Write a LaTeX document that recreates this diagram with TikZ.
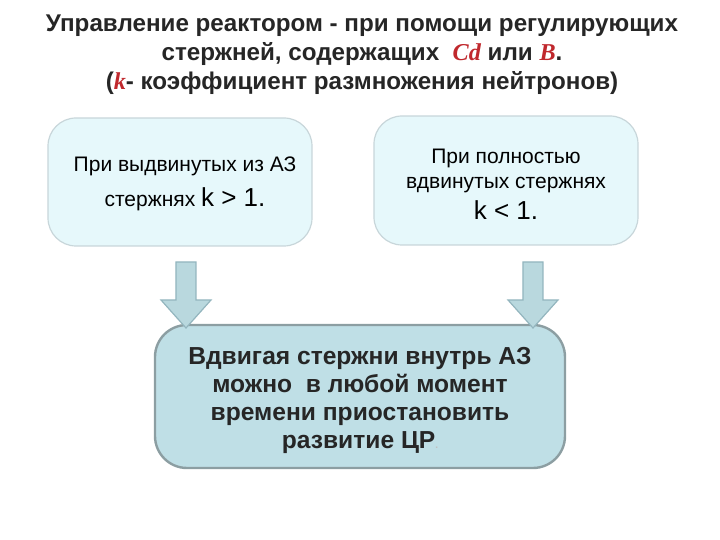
\documentclass[tikz,border=0pt]{standalone}
\usepackage{fontspec}
\setmainfont{Liberation Sans}
\newfontfamily\serifit{Liberation Serif}
\definecolor{ttl}{HTML}{262626}
\definecolor{redc}{HTML}{C0282D}
\definecolor{boxf}{HTML}{E6F8FB}
\definecolor{boxd}{HTML}{C8D6DA}
\definecolor{arf}{HTML}{B9D8DE}
\definecolor{ard}{HTML}{93B5BE}
\definecolor{bigf}{HTML}{BFDFE6}
\definecolor{bigd}{HTML}{8C9EA2}
\tikzset{
 topbox/.style={draw=boxd,fill=boxf,rounded corners=14pt,line width=0.6pt},
 ttxt/.style={align=center,font=\fontsize{10.5}{12.5}\selectfont,text=black},
 arr/.style={draw=ard,fill=arf,line width=0.6pt},
}
\newcommand{\redit}[1]{\textcolor{redc}{{\serifit\bfseries\itshape #1}}}
\begin{document}
\begin{tikzpicture}[x=0.5pt,y=-0.5pt]
\useasboundingbox (0,0) rectangle (720,540);
\node[font=\bfseries\fontsize{12.1}{15}\selectfont,text=ttl,align=center] (title) at (362,55)
 {Управление реактором - при помощи регулирующих\\[-0.5pt]
  стержней, содержащих \ \redit{Cd} или \redit{B}.\\[-0.5pt]
  (\redit{k}- коэффициент размножения нейтронов)};
\draw[topbox] (48,118) rectangle (312,246);
\node[minimum width=132pt,minimum height=64pt] (b1) at (180,182) {};
\node[ttxt] (t1) at (185,184) {При выдвинутых из АЗ\\[5pt] стержнях {\fontsize{13}{15}\selectfont k > 1.}};
\draw[topbox] (374,116) rectangle (638,245);
\node[minimum width=132pt,minimum height=64pt] (b2) at (506,180) {};
\node[ttxt] (t2) at (506,184) {При полностью\\ вдвинутых стержнях\\[3pt] {\fontsize{13}{15}\selectfont k < 1.}};
\draw[draw=bigd,fill=bigf,rounded corners=16pt,line width=1.2pt] (155,325) rectangle (565,468);
\node[minimum width=205pt,minimum height=71pt] (b3) at (360,396) {};
\node[align=center,font=\bfseries\fontsize{12.3}{14}\selectfont,text=ttl] (t3) at (360,400)
 {Вдвигая стержни внутрь АЗ\\ можно\ \ в любой момент\\ времени приостановить\\ развитие ЦР{\color{gray!50}\tiny.}};
\draw[arr] (176,262) -- (196,262) -- (196,300) -- (211,300) -- (186,328) -- (161,300) -- (176,300) -- cycle;
\draw[arr] (523,262) -- (543,262) -- (543,300) -- (558,300) -- (533,328) -- (508,300) -- (523,300) -- cycle;
\end{tikzpicture}
\end{document}
